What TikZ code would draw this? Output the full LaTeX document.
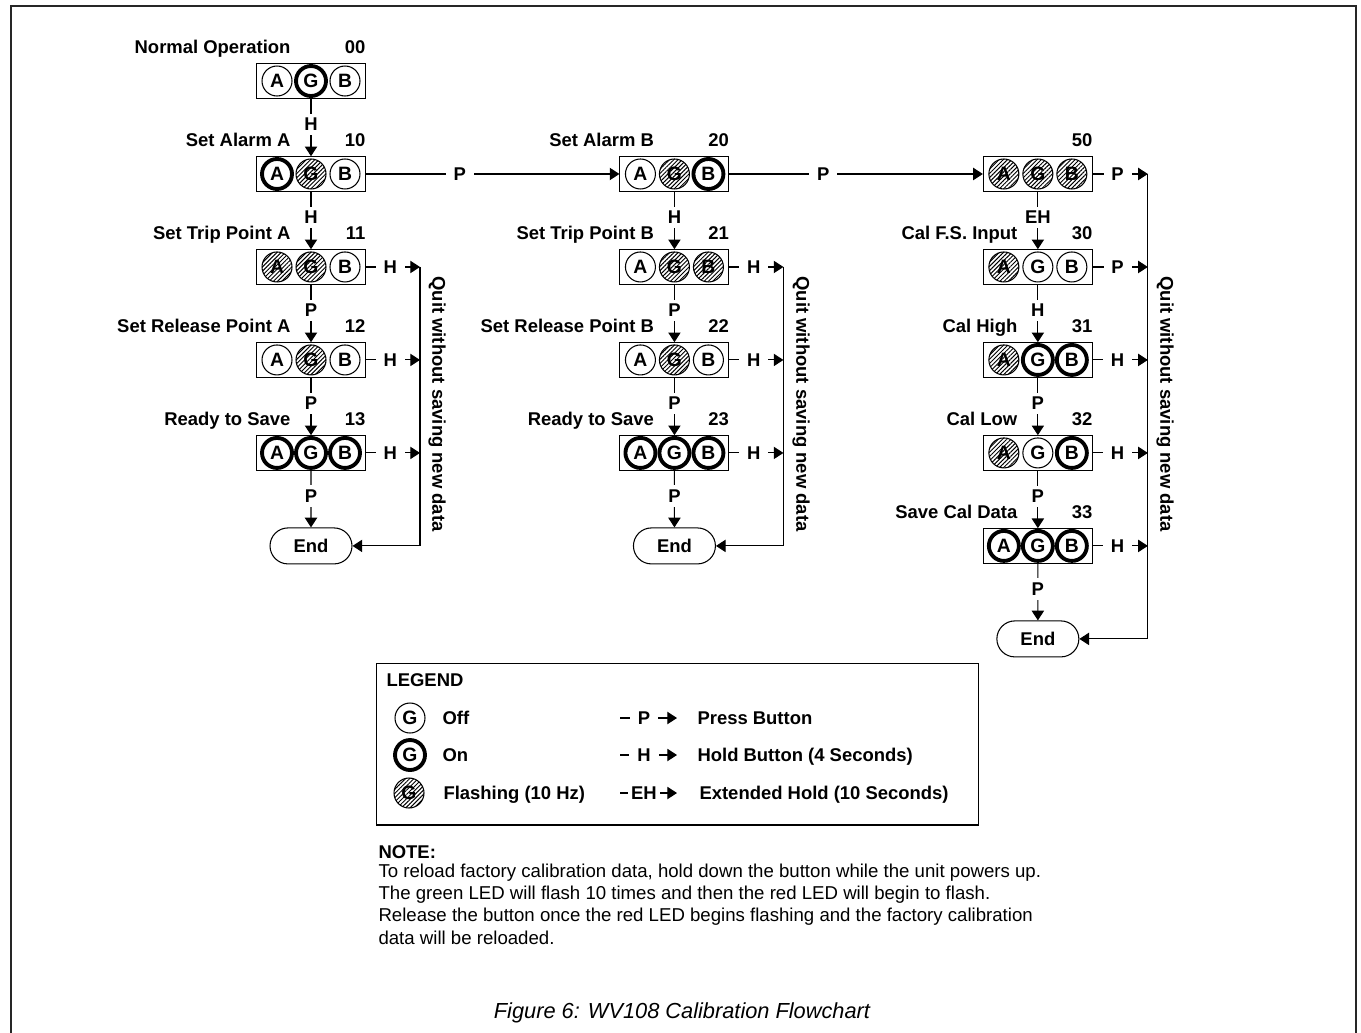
\documentclass[tikz,border=0pt]{standalone}
\usepackage{fontspec}
\setmainfont{Liberation Sans}
\usetikzlibrary{arrows.meta, positioning, shapes.misc, patterns.meta}
\tikzset{
  panelBox/.style={draw, minimum width=2.18cm, minimum height=0.69cm, inner sep=0pt},
  ledOff/.style={circle, draw, minimum size=0.6cm, inner sep=0pt, fill=white, font=\fontsize{11}{13}\selectfont\bfseries},
  ledOn/.style={ledOff, line width=2.2pt},
  ledFlash/.style={ledOff, pattern={Lines[angle=45, distance=1.7pt, line width=0.55pt]}},
  endState/.style={rounded rectangle, draw, minimum width=1.64cm, minimum height=0.72cm, inner sep=0pt},
  btnKey/.style={fill=white, inner xsep=4.5pt, inner ysep=2.5pt, pos=0.45},
  stageTitle/.style={inner sep=0pt},
  noteText/.style={anchor=base west, inner sep=0pt, font=\fontsize{10.6}{12.6}\selectfont},
}
% one display: box, the three LEDs and the two labels above it
\newcommand{\ledpanel}[7]{%
  \node[panelBox, #2] (#1) {};
  \node[#3] (#1a) at ([xshift=-0.68cm]#1.center) {A};
  \node[#4] (#1g) at (#1.center) {G};
  \node[#5] (#1b) at ([xshift=0.68cm]#1.center) {B};
  \node[stageTitle, anchor=base east] (#1t) at ([xshift=-0.4cm, yshift=0.2cm]#1.north) {#6};
  \node[stageTitle, anchor=base east] (#1n) at ([yshift=0.2cm]#1.north east) {#7};
}

\begin{document}
\begin{tikzpicture}[x=0.02cm, y=-0.02cm, >={Triangle[length=5.5pt, width=7pt]}, line width=0.6pt, node distance=1.86cm, every node/.style={font=\fontsize{10.5}{12.6}\selectfont\bfseries}]
\useasboundingbox (0,0) rectangle (1361,1032);
\draw[line width=1.1pt, black!85] (11,1050) -- (11,6) -- (1356,6) -- (1356,1050);

% alarm A
\ledpanel{s00}{at={(311,81)}}{ledOff}{ledOn}{ledOff}{Normal Operation}{00}
\ledpanel{s10}{below of=s00}{ledOn}{ledFlash}{ledOff}{Set Alarm A}{10}
\ledpanel{s11}{below of=s10}{ledFlash}{ledFlash}{ledOff}{Set Trip Point A}{11}
\ledpanel{s12}{below of=s11}{ledOff}{ledFlash}{ledOff}{Set Release Point A}{12}
\ledpanel{s13}{below of=s12}{ledOn}{ledOn}{ledOn}{Ready to Save}{13}
\node[endState, below of=s13] (e1) {End};
% alarm B
\ledpanel{s20}{right of=s10, node distance=7.27cm}{ledOff}{ledFlash}{ledOn}{Set Alarm B}{20}
\ledpanel{s21}{below of=s20}{ledOff}{ledFlash}{ledFlash}{Set Trip Point B}{21}
\ledpanel{s22}{below of=s21}{ledOff}{ledFlash}{ledOff}{Set Release Point B}{22}
\ledpanel{s23}{below of=s22}{ledOn}{ledOn}{ledOn}{Ready to Save}{23}
\node[endState, below of=s23] (e2) {End};
% calibration
\ledpanel{s50}{right of=s20, node distance=7.27cm}{ledFlash}{ledFlash}{ledFlash}{}{50}
\ledpanel{s30}{below of=s50}{ledFlash}{ledOff}{ledOff}{Cal F.S. Input}{30}
\ledpanel{s31}{below of=s30}{ledFlash}{ledOn}{ledOn}{Cal High}{31}
\ledpanel{s32}{below of=s31}{ledFlash}{ledOff}{ledOn}{Cal Low}{32}
\ledpanel{s33}{below of=s32}{ledOn}{ledOn}{ledOn}{Save Cal Data}{33}
\node[endState, below of=s33] (e3) {End};

\draw [->] (s00) edge node [btnKey]{H} (s10);
\draw [->] (s10) edge node [btnKey]{H} (s11);
\draw [->] (s11) edge node [btnKey]{P} (s12);
\draw [->] (s12) edge node [btnKey]{P} (s13);
\draw [->] (s13) edge node [btnKey]{P} (e1);
\draw [->] (s20) edge node [btnKey]{H} (s21);
\draw [->] (s21) edge node [btnKey]{P} (s22);
\draw [->] (s22) edge node [btnKey]{P} (s23);
\draw [->] (s23) edge node [btnKey]{P} (e2);
\draw [->] (s50) edge node [btnKey]{EH} (s30);
\draw [->] (s30) edge node [btnKey]{H} (s31);
\draw [->] (s31) edge node [btnKey]{P} (s32);
\draw [->] (s32) edge node [btnKey]{P} (s33);
\draw [->] (s33) edge node [btnKey]{P} (e3);
\draw [->] (s10) edge node [btnKey, pos=0.37]{P} (s20);
\draw [->] (s20) edge node [btnKey, pos=0.37]{P} (s50);

% quit without saving
\coordinate (q11) at ([xshift=2.18cm]s11.center);
\coordinate (q12) at ([xshift=2.18cm]s12.center);
\coordinate (q13) at ([xshift=2.18cm]s13.center);
\coordinate (q21) at ([xshift=2.18cm]s21.center);
\coordinate (q22) at ([xshift=2.18cm]s22.center);
\coordinate (q23) at ([xshift=2.18cm]s23.center);
\coordinate (q50) at ([xshift=2.2cm]s50.center);
\coordinate (q30) at ([xshift=2.2cm]s30.center);
\coordinate (q31) at ([xshift=2.2cm]s31.center);
\coordinate (q32) at ([xshift=2.2cm]s32.center);
\coordinate (q33) at ([xshift=2.2cm]s33.center);
\draw [->] (s11) edge node [btnKey]{H} (q11);
\draw [->] (s12) edge node [btnKey]{H} (q12);
\draw [->] (s13) edge node [btnKey]{H} (q13);
\draw [->] (s21) edge node [btnKey]{H} (q21);
\draw [->] (s22) edge node [btnKey]{H} (q22);
\draw [->] (s23) edge node [btnKey]{H} (q23);
\draw [->] (s50) edge node [btnKey]{P} (q50);
\draw [->] (s30) edge node [btnKey]{P} (q30);
\draw [->] (s31) edge node [btnKey]{H} (q31);
\draw [->] (s32) edge node [btnKey]{H} (q32);
\draw [->] (s33) edge node [btnKey]{H} (q33);
\draw [->] (q11) |- (e1);
\draw [->] (q21) |- (e2);
\draw [->] (q50) |- (e3);
\node[rotate=-90] (quit1) at (437,404) {Quit without saving new data};
\node[rotate=-90] (quit2) at (801,404) {Quit without saving new data};
\node[rotate=-90] (quit3) at (1165,404) {Quit without saving new data};

% legend
\node[draw, minimum width=12.06cm, minimum height=3.24cm, inner sep=0pt] (legend) at (677.5,744) {};
\node[anchor=base west, inner sep=0pt] (kt) at (386,686) {LEGEND};
\node[ledOff] (koff) at (410,718) {G};
\node[ledOn] (kon) at (410,755) {G};
\node[ledFlash] (kfl) at (409,793) {G};
\node[anchor=base west, inner sep=0pt] (koffl) at (442,724.5) {Off};
\node[anchor=base west, inner sep=0pt] (konl) at (442,761.5) {On};
\node[anchor=base west, inner sep=0pt] (kfll) at (443,799.5) {Flashing (10 Hz)};
\coordinate (kp0) at (620,718); \coordinate (kp1) at (677,718);
\coordinate (kh0) at (620,755); \coordinate (kh1) at (677,755);
\coordinate (ke0) at (620,793); \coordinate (ke1) at (677,793);
\draw [->] (kp0) -- node [btnKey, pos=0.42]{P} (kp1);
\draw [->] (kh0) -- node [btnKey, pos=0.42]{H} (kh1);
\draw [->] (ke0) -- node [btnKey, pos=0.42, inner xsep=2pt]{EH} (ke1);
\node[anchor=base west, inner sep=0pt] (kpl) at (697,724.5) {Press Button};
\node[anchor=base west, inner sep=0pt] (khl) at (697,761.5) {Hold Button (4 Seconds)};
\node[anchor=base west, inner sep=0pt] (kel) at (699,799.5) {Extended Hold (10 Seconds)};

% note and caption
\node[anchor=base west, inner sep=0pt] (note) at (378,858) {NOTE:};
\node[noteText] (n1) at (378,877) {To reload factory calibration data, hold down the button while the unit powers up.};
\node[noteText] (n2) at (378,899.3) {The green LED will flash 10 times and then the red LED will begin to flash.};
\node[noteText] (n3) at (378,921.6) {Release the button once the red LED begins flashing and the factory calibration};
\node[noteText] (n4) at (378,944) {data will be reloaded.};
\node[anchor=base, inner sep=0pt, font=\fontsize{12.4}{14}\selectfont\itshape] (fig) at (682,1018) {Figure 6: WV108 Calibration Flowchart};
\end{tikzpicture}
\end{document}
